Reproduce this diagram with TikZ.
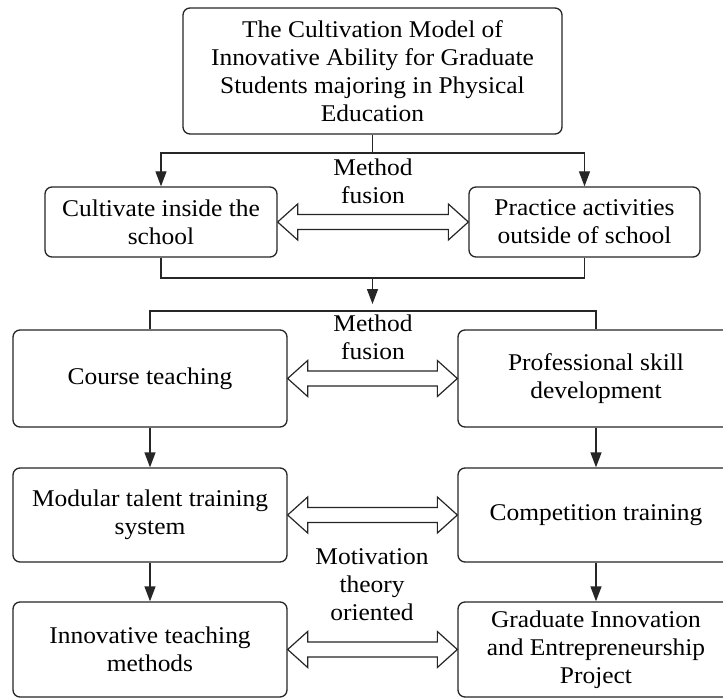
\documentclass[tikz,border=0pt]{standalone}
\usepackage{fontspec}
\setmainfont[FakeStretch=1.06]{Liberation Serif}
\usetikzlibrary{arrows.meta,calc}
\tikzset{
  box/.style={draw=black!85, line width=1.3pt, rounded corners=7pt, align=center,
    font=\fontsize{24}{28}\selectfont, inner sep=0pt},
  lbl/.style={align=center, font=\fontsize{24}{28}\selectfont, inner sep=0pt},
  conn/.style={draw=black!85, line width=1.3pt},
  arr/.style={conn, -{Triangle[length=15pt,width=11pt]}},
  hollow/.style={draw=black!85, line width=1.2pt, fill=white, line join=miter},
}
\newcommand\dblarr[2]{%
  \draw[hollow] let \p1=(#1.east), \p2=(#2.west) in
    (\x1,\y1) -- (\x1+20pt,\y1+18pt) -- (\x1+20pt,\y1+7.5pt) -- (\x2-20pt,\y1+7.5pt)
    -- (\x2-20pt,\y1+18pt) -- (\x2,\y1) -- (\x2-20pt,\y1-18pt) -- (\x2-20pt,\y1-7.5pt)
    -- (\x1+20pt,\y1-7.5pt) -- (\x1+20pt,\y1-18pt) -- cycle;}
\begin{document}
\begin{tikzpicture}[x=1pt,y=-1pt]
\clip (0,0) rectangle (723,698);
\fill[white] (0,0) rectangle (723,698);

\node[box, minimum width=379pt, minimum height=126pt] (top) at (372.5,71)
  {The Cultivation Model of\\Innovative Ability for Graduate\\Students majoring in Physical\\Education};

\node[box, minimum width=232pt, minimum height=70pt] (cis) at (161,222) {Cultivate inside the\\school};
\node[box, minimum width=231pt, minimum height=70pt] (pas) at (584.5,222) {Practice activities\\outside of school};

\node[box, minimum width=274pt, minimum height=97pt] (ct) at (150,378.5) {Course teaching};
\node[box, minimum width=276pt, minimum height=97pt] (psd) at (596,378.5) {Professional skill\\development};

\node[box, minimum width=274pt, minimum height=94pt] (mts) at (150,515) {Modular talent training\\system};
\node[box, minimum width=276pt, minimum height=94pt] (ctr) at (596,515) {Competition training};

\node[box, minimum width=274pt, minimum height=95pt] (itm) at (150,649.5) {Innovative teaching\\methods};
\node[box, minimum width=276pt, minimum height=95pt] (gie) at (596,649.5) {Graduate Innovation\\and Entrepreneurship\\Project};

\node[lbl] (l1) at (373,181) {Method\\fusion};
\node[lbl] (l2) at (373,337) {Method\\fusion};
\node[lbl] (l3) at (372,585) {Motivation\\theory\\oriented};

\coordinate (j1) at (372.5,153);
\coordinate (j2) at (372.5,278);
\coordinate (j3) at (372.5,304);
\coordinate (j4) at (150,311);

\draw[conn] (top.south) -- (j1);
\draw[arr] (j1) -| (cis.north);
\draw[arr] (j1) -| (pas.north);
\draw[conn] (cis.south) |- (j2) -| (pas.south);
\draw[arr] (j2) -- (j3);
\draw[conn] (ct.north) -- (j4) -| (psd.north);

\draw[arr] (ct.south) -- (mts.north);
\draw[arr] (psd.south) -- (ctr.north);
\draw[arr] (mts.south) -- (itm.north);
\draw[arr] (ctr.south) -- (gie.north);

\dblarr{cis}{pas}
\dblarr{ct}{psd}
\dblarr{mts}{ctr}
\dblarr{itm}{gie}
\end{tikzpicture}
\end{document}
